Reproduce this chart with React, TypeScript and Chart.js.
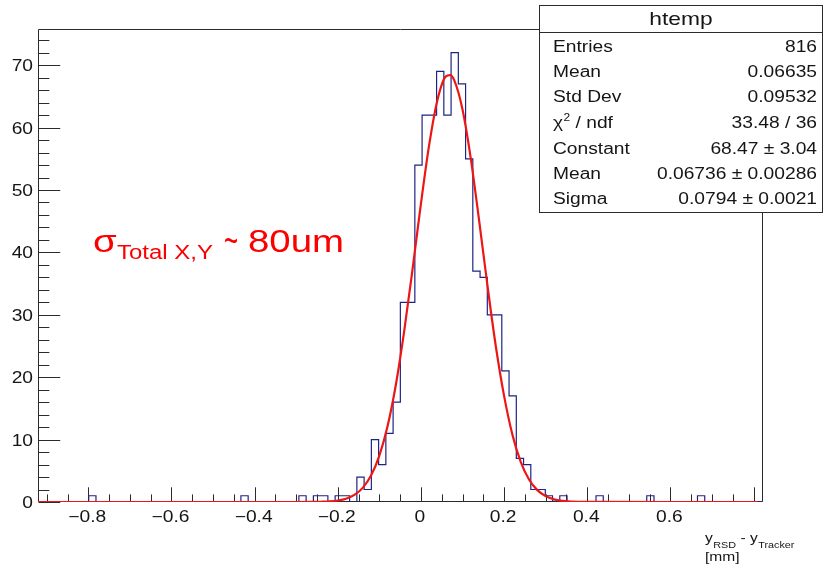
import React, { useEffect, useRef } from "react";
import { Chart, registerables } from "chart.js";

Chart.register(...registerables);

// ---- data ----
const X_MIN = -0.921;
const X_MAX = 0.822;
const BIN_WIDTH = 0.01743;
const Y_MAX = 75.8;

// 100 bin contents of htemp (low edge = X_MIN + i * BIN_WIDTH)
const COUNTS = [
  0, 0, 0, 0, 0, 0, 0, 1, 0, 0,
  0, 0, 0, 0, 0, 0, 0, 0, 0, 0,
  0, 0, 0, 0, 0, 0, 0, 0, 1, 0,
  0, 0, 0, 0, 0, 0, 1, 0, 1, 1,
  0, 1, 1, 0, 4, 2, 10, 6, 11, 16,
  32, 32, 54, 62, 62, 69, 62, 72, 67, 55,
  37, 36, 30, 30, 21, 17, 7, 6, 2, 2,
  1, 0, 1, 0, 0, 0, 0, 1, 0, 0,
  0, 0, 0, 0, 1, 0, 0, 0, 0, 0,
  0, 1, 0, 0, 0, 0, 0, 0, 0, 0,
];

// gaussian fit curve
const FIT_X = [
  -0.921, -0.3, -0.26, -0.24, -0.22, -0.2, -0.18, -0.16, -0.14, -0.12,
  -0.1, -0.08, -0.06, -0.04, -0.02, 0.0, 0.02, 0.04, 0.06, 0.07,
  0.08, 0.1, 0.12, 0.14, 0.16, 0.18, 0.2, 0.22, 0.24, 0.26,
  0.28, 0.3, 0.32, 0.34, 0.36, 0.4, 0.81,
];
const FIT_Y = [
  0, 0, 0.01, 0.04, 0.1, 0.24, 0.53, 1.13, 2.26, 4.23,
  7.43, 12.2, 18.9, 27.5, 37.4, 47.8, 57.3, 64.5, 68.2, 68.4,
  67.6, 62.9, 55.0, 45.1, 34.7, 25.0, 17.0, 10.8, 6.44, 3.61,
  1.9, 0.94, 0.43, 0.19, 0.08, 0.01, 0,
];

const X_TICK_LABELS = [-0.8, -0.6, -0.4, -0.2, 0, 0.2, 0.4, 0.6];
const Y_TICK_LABELS = [0, 10, 20, 30, 40, 50, 60, 70];

const STATS_TITLE = "htemp";
const STATS_LABELS = ["Entries", "Mean", "Std Dev", "CHI2", "Constant", "Mean", "Sigma"];
const STATS_VALUES = [
  "816",
  "0.06635",
  "0.09532",
  "33.48 / 36",
  "68.47 \u00b1 3.04",
  "0.06736 \u00b1 0.00286",
  "0.0794 \u00b1 0.0021",
];

const FONT = "'Liberation Sans', Arial, Helvetica, sans-serif";
const SX = 1.2; // horizontal stretch of the reference picture's text

function drawText(
  ctx: CanvasRenderingContext2D,
  text: string,
  x: number,
  y: number,
  size: number,
  align: "left" | "right" | "center",
  color: string,
  sx: number = SX
) {
  ctx.save();
  ctx.font = `${size}px ${FONT}`;
  ctx.fillStyle = color;
  ctx.textBaseline = "alphabetic";
  ctx.textAlign = "left";
  const w = ctx.measureText(text).width * sx;
  const x0 = align === "right" ? x - w : align === "center" ? x - w / 2 : x;
  ctx.translate(x0, y);
  ctx.scale(sx, 1);
  ctx.fillText(text, 0, 0);
  ctx.restore();
  return w;
}

function fmtTick(v: number) {
  const s = Math.abs(v) < 1e-9 ? "0" : String(Math.round(Math.abs(v) * 10) / 10);
  return v < -1e-9 ? "\u2212" + s : s;
}

const rootPlugin = {
  id: "rootStyle",
  beforeDatasetsDraw(chart: any) {
    const { ctx, chartArea } = chart;
    const { left, right, top, bottom } = chartArea;
    const xs = chart.scales.x;
    const ys = chart.scales.y;
    const W = right - left;
    const H = bottom - top;
    ctx.save();
    ctx.strokeStyle = "#2b2b2b";
    ctx.lineWidth = 1;
    const L = Math.round(left) + 0.5;
    const R = Math.round(right) - 0.5;
    const T = Math.round(top) + 0.5;
    const B = Math.round(bottom) - 0.5;
    ctx.beginPath();
    ctx.rect(L, T, R - L, B - T);
    ctx.stroke();
    // y ticks
    ctx.beginPath();
    for (let k = 0; k * 2 <= Y_MAX; k++) {
      const v = k * 2;
      const py = Math.round(ys.getPixelForValue(v)) + 0.5;
      const len = k % 5 === 0 ? W * 0.03 : W * 0.015;
      ctx.moveTo(L, py);
      ctx.lineTo(L + len, py);
    }
    // x ticks
    for (let k = -18; k <= 16; k++) {
      const v = k * 0.05;
      if (v < X_MIN || v > X_MAX) continue;
      const px = Math.round(xs.getPixelForValue(v)) + 0.5;
      const len = k % 4 === 0 ? H * 0.03 : H * 0.015;
      ctx.moveTo(px, B);
      ctx.lineTo(px, B - len);
    }
    ctx.stroke();
    ctx.restore();
  },
  afterDraw(chart: any) {
    const { ctx, chartArea } = chart;
    const { left, bottom } = chartArea;
    const xs = chart.scales.x;
    const ys = chart.scales.y;
    const txt = "#151515";

    // tick labels
    for (const v of Y_TICK_LABELS) {
      drawText(ctx, String(v), left - 5, ys.getPixelForValue(v) + 6, 16, "right", txt);
    }
    for (const v of X_TICK_LABELS) {
      drawText(ctx, fmtTick(v), xs.getPixelForValue(v) - 1, bottom + 20, 16, "center", txt);
    }

    // axis title: y_RSD - y_Tracker [mm]
    let ax = 705;
    ax += drawText(ctx, "y", ax, 541.5, 13, "left", txt);
    ax += drawText(ctx, "RSD", ax + 0.5, 548, 9, "left", txt) + 0.5;
    ax += drawText(ctx, " - ", ax, 541.5, 13, "left", txt);
    ax += drawText(ctx, "y", ax, 541.5, 13, "left", txt);
    drawText(ctx, "Tracker", ax + 0.5, 548, 9, "left", txt);
    drawText(ctx, "[mm]", 705, 561, 13, "left", txt);

    // annotation
    const red = "#fb0000";
    drawText(ctx, "\u03c3", 93, 251.5, 32, "left", red);
    drawText(ctx, "Total X,Y", 117, 259, 20, "left", red);
    drawText(ctx, "~", 224, 254, 40, "left", red, 0.6);
    drawText(ctx, "80um", 248, 251.5, 32, "left", red);

    // stats box
    const bx0 = 539.5, bx1 = 822.5, by0 = 5.5, by1 = 212.5, sep = 32.5;
    ctx.save();
    ctx.fillStyle = "#ffffff";
    ctx.fillRect(bx0, by0, bx1 - bx0, by1 - by0);
    ctx.strokeStyle = "#2b2b2b";
    ctx.lineWidth = 1;
    ctx.strokeRect(bx0, by0, bx1 - bx0, by1 - by0);
    ctx.beginPath();
    ctx.moveTo(bx0, sep);
    ctx.lineTo(bx1, sep);
    ctx.stroke();
    ctx.restore();
    drawText(ctx, STATS_TITLE, (bx0 + bx1) / 2, 25, 19, "center", txt);
    const rowY = [46.7, 71.7, 96.7, 121.9, 148.3, 173.3, 198.3];
    STATS_LABELS.forEach((lab, i) => {
      const by = rowY[i] + 5.7;
      if (lab === "CHI2") {
        let cx = 553;
        cx += drawText(ctx, "\u03c7", cx, by, 16, "left", txt);
        cx += drawText(ctx, "2", cx + 0.5, by - 7, 10, "left", txt) + 0.5;
        drawText(ctx, " / ndf", cx, by, 16, "left", txt);
      } else {
        drawText(ctx, lab, 553, by, 16, "left", txt);
      }
      drawText(ctx, STATS_VALUES[i], 817, by, 16, "right", txt);
    });
  },
};

export default function App() {
  const ref = useRef<HTMLCanvasElement | null>(null);
  useEffect(() => {
    if (!ref.current) return;
    const histData = COUNTS.map((c, i) => ({ x: X_MIN + i * BIN_WIDTH, y: c }));
    histData.push({ x: X_MIN + COUNTS.length * BIN_WIDTH, y: 0 });
    const fitData = FIT_X.map((x, i) => ({ x, y: FIT_Y[i] }));
    const chart = new Chart(ref.current, {
      type: "line",
      data: {
        datasets: [
          {
            label: "fit",
            data: fitData,
            borderColor: "#ec1616",
            borderWidth: 2.2,
            pointRadius: 0,
            cubicInterpolationMode: "monotone",
            fill: false,
            order: 0,
          } as any,
          {
            label: "htemp",
            data: histData,
            stepped: true,
            borderColor: "#1d2384",
            borderWidth: 1.2,
            pointRadius: 0,
            fill: false,
            order: 1,
          } as any,
        ],
      },
      options: {
        animation: false,
        responsive: false,
        devicePixelRatio: 1,
        events: [],
        layout: { padding: { left: 38, top: 29, right: 62.3, bottom: 62 } },
        plugins: { legend: { display: false }, tooltip: { enabled: false } },
        scales: {
          x: { type: "linear", min: X_MIN, max: X_MAX, display: false },
          y: { type: "linear", min: 0, max: Y_MAX, display: false },
        },
      },
      plugins: [rootPlugin],
    });
    return () => chart.destroy();
  }, []);
  return (
    <div style={{ position: "absolute", left: 0, top: 0, width: 825, height: 564, background: "#fff" }}>
      <canvas ref={ref} width={825} height={564} style={{ display: "block" }} />
    </div>
  );
}
